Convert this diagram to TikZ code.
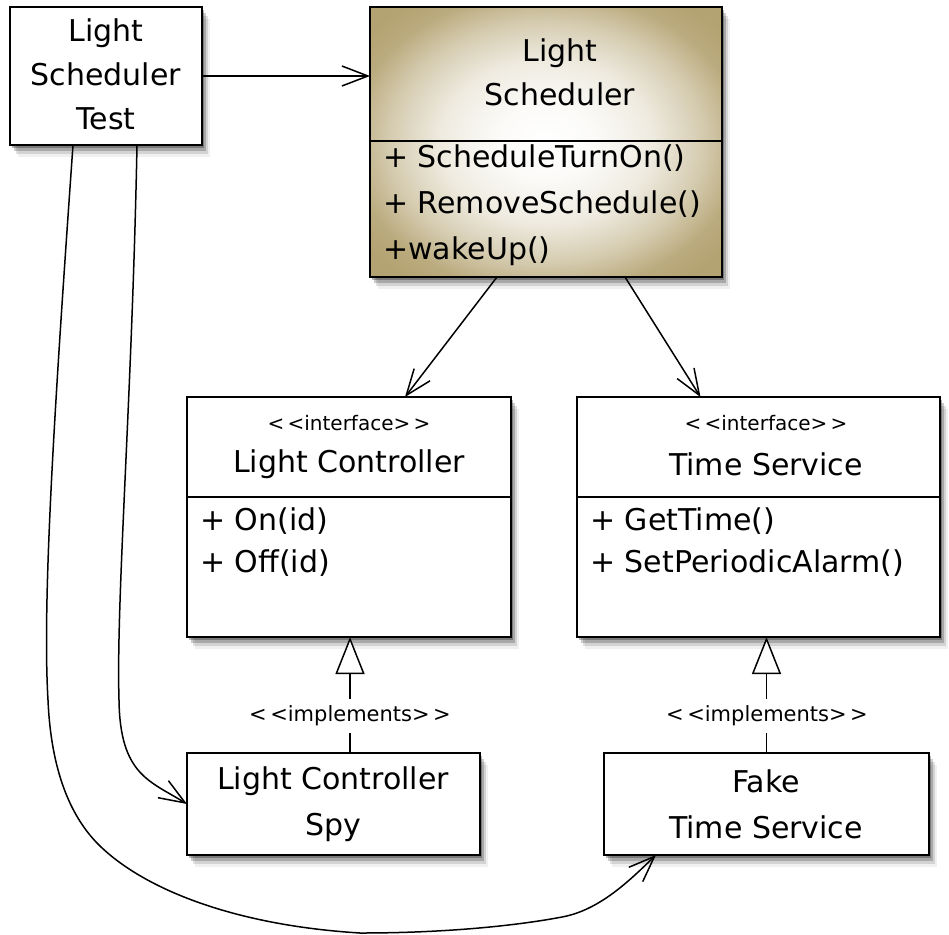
\documentclass[tikz,border=0pt]{standalone}
\usepackage{fontspec}
\setmainfont{DejaVu Sans}
\usetikzlibrary{arrows.meta,shadows,calc}
\definecolor{tanedge}{RGB}{180,163,114}
\pgfdeclareradialshading{lsshade}{\pgfpoint{0bp}{0bp}}{%
  color(0bp)=(white);
  color(7bp)=(white!95!tanedge);
  color(15bp)=(white!78!tanedge);
  color(22bp)=(white!45!tanedge);
  color(28bp)=(white!8!tanedge);
  color(32bp)=(tanedge);
  color(50bp)=(tanedge)}
\tikzset{
  softshadow/.style={
    general shadow={shadow xshift=2pt, shadow yshift=-3pt, fill=black, opacity=0.28},
    general shadow={shadow xshift=4pt, shadow yshift=-6pt, fill=black, opacity=0.20},
    general shadow={shadow xshift=6pt, shadow yshift=-9pt, fill=black, opacity=0.12},
    general shadow={shadow xshift=8pt, shadow yshift=-12pt, fill=black, opacity=0.06}},
  box/.style={draw=black, line width=2.4pt, fill=white, inner sep=0pt, outer sep=0pt,
    anchor=north west, softshadow},
  maintext/.style={font=\fontsize{30}{44}\selectfont, align=center, inner sep=0pt},
  methtext/.style={font=\fontsize{30}{46}\selectfont, align=left, inner sep=0pt, anchor=west},
  stereo/.style={font=\fontsize{20}{22}\selectfont, inner sep=0pt},
  impllabel/.style={font=\fontsize{21}{22}\selectfont, fill=white, inner xsep=2pt, inner ysep=7pt},
  divider/.style={line width=2pt},
  assoc/.style={line width=1.5pt, -{Straight Barb[length=26pt,width=20pt]}},
  realize/.style={line width=1.5pt, -{Triangle[length=37pt,width=29pt,fill=white]}},
}
\newcommand{\stereotxt}[1]{<\,<#1>\,>}
\begin{document}
\begin{tikzpicture}[x=1pt,y=-1pt]
\useasboundingbox (0,0) rectangle (949,934);

% Light Scheduler Test
\node[box, minimum width=192pt, minimum height=138pt] (lst) at (10,7) {};
\node[maintext] (lsttext) at (106,74) {Light\\Scheduler\\Test};

% Light Scheduler
\node[box, minimum width=352pt, minimum height=270pt, shading=lsshade] (ls) at (370,7) {};
\node[maintext] (lstitle) at (560,72) {Light\\Scheduler};
\draw[divider] ($(ls.north west)+(0,134)$) coordinate (lsd1) -- ($(ls.north east)+(0,134)$) coordinate (lsd2);
\node[methtext] (lsmeth) at (383,205) {+ ScheduleTurnOn()\\+ RemoveSchedule()\\+wakeUp()};

% Light Controller
\node[box, minimum width=324pt, minimum height=240pt] (lc) at (187,397) {};
\node[stereo] (lcster) at (349,423) {\stereotxt{interface}};
\node[maintext] (lctitle) at (349,464) {Light Controller};
\draw[divider] ($(lc.north west)+(0,100)$) coordinate (lcd1) -- ($(lc.north east)+(0,100)$) coordinate (lcd2);
\node[methtext, font=\fontsize{30}{42}\selectfont] (lcmeth) at (200,542) {+ On(id)\\+ Off(id)};

% Time Service
\node[box, minimum width=363pt, minimum height=240pt] (ts) at (577,397) {};
\node[stereo] (tsster) at (766,423) {\stereotxt{interface}};
\node[maintext] (tstitle) at (766,464) {Time Service};
\draw[divider] ($(ts.north west)+(0,100)$) coordinate (tsd1) -- ($(ts.north east)+(0,100)$) coordinate (tsd2);
\node[methtext, font=\fontsize{30}{42}\selectfont] (tsmeth) at (590,542) {+ GetTime()\\+ SetPeriodicAlarm()};

% Light Controller Spy
\node[box, minimum width=293pt, minimum height=102pt] (spy) at (187,753) {};
\node[maintext, font=\fontsize{30}{46}\selectfont] (spytext) at (333,804) {Light Controller\\Spy};

% Fake Time Service
\node[box, minimum width=325pt, minimum height=102pt] (fts) at (604,753) {};
\node[maintext, font=\fontsize{30}{46}\selectfont] (ftstext) at (766,804) {Fake\\Time Service};

% associations
\draw[assoc] (lst.east) -- (lst.east -| ls.west);
\draw[assoc] ($(ls.south)+(-49,0)$) -- ($(lc.north)+(56,0)$);
\draw[assoc] ($(ls.south)+(79,0)$) -- ($(ts.north)+(-58,0)$);

% realizations
\draw[realize] ($(spy.north west)+(163,0)$) coordinate (r1) -- (r1 |- lc.south);
\node[impllabel] (impl1) at (350,716) {\stereotxt{implements}};
\draw[realize] (fts.north) -- (fts.north |- ts.south);
\node[impllabel] (impl2) at (767,716) {\stereotxt{implements}};

% curved dependencies from the test
\draw[assoc] ($(lst.south west)+(127,0)$) .. controls (132,400) and (116,600) .. (119,700)
   .. controls (120,775) and (150,781) .. (spy.west);
\draw[assoc] ($(lst.south west)+(63,0)$) .. controls (55,400) and (42,600) .. (48,700)
   .. controls (51,770) and (70,815) .. (97,843)
   .. controls (140,887) and (230,925) .. (360,933)
   .. controls (450,933) and (520,925) .. (562,917)
   .. controls (600,910) and (630,880) .. ($(fts.south west)+(52,0)$);
\end{tikzpicture}
\end{document}
